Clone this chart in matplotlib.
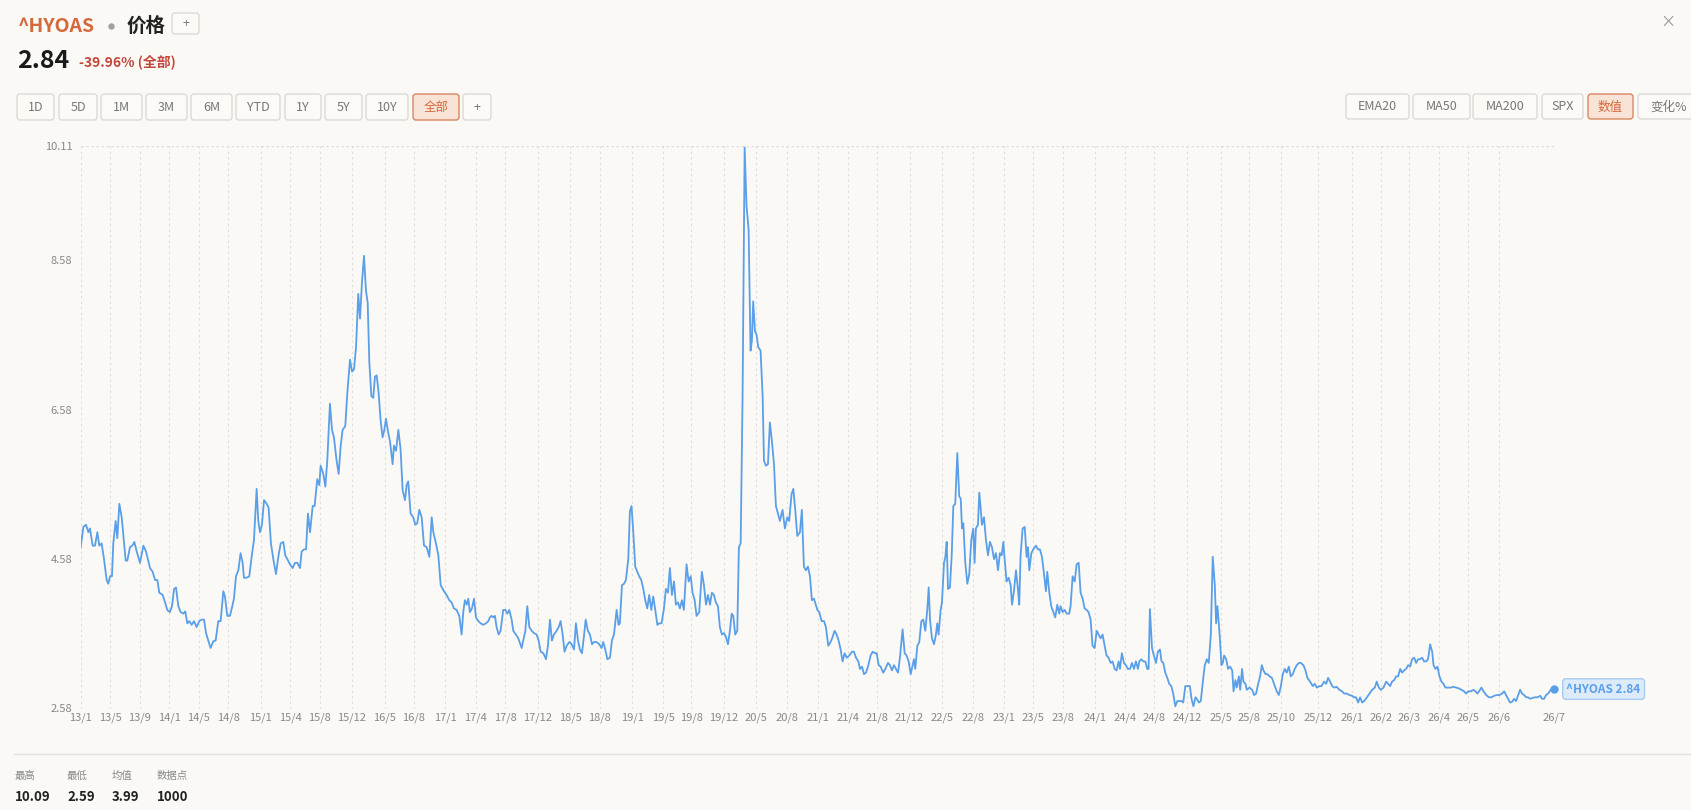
import matplotlib
matplotlib.use("Agg")
import matplotlib.pyplot as plt
from matplotlib.patches import FancyBboxPatch
import numpy as np

plt.rcParams['font.family'] = ['Noto Sans CJK SC', 'DejaVu Sans']

# ---- data (trading-day index, spread value) ----
day_idx = [
    0, 1.8, 3.6, 5.2, 6.3, 8.1, 9.7, 11.3, 12.6, 14.2, 15.8, 17.6, 18.7, 19.9, 21.2, 22.1, 23.7, 24.8,
    26.2, 27.8, 29.4, 30.5, 31.6, 33.4, 35, 36.4, 38, 40.2, 42.5, 44.3, 47, 48.8, 50.4, 52, 53.3, 55.6,
    57.2, 58.7, 60.5, 61.9, 63.3, 64.6, 66.2, 67.8, 69.6, 70.9, 72.3, 73.6, 75.2, 76.8, 78.6, 80.4, 82,
    83.6, 85, 86.5, 88.1, 89.9, 91.5, 93.3, 94.9, 96.7, 97.8, 99.4, 101.2, 102.8, 103.9, 105.3, 106.9,
    108.4, 109.8, 110.7, 112.5, 114.3, 115.9, 117.5, 119.3, 120.4, 121.6, 122.9, 124.3, 126.1, 127.4,
    129, 130.6, 132.4, 134, 135.6, 137.4, 138.7, 140.1, 141.9, 143.7, 145.3, 146.9, 148.7, 149.8, 151.4,
    152.8, 154.1, 155.5, 157.3, 158.6, 160.4, 161.8, 162.7, 164.5, 165.9, 167.2, 169, 170.4, 171.7,
    173.5, 174.9, 176.3, 177.6, 179.4, 180.8, 182.6, 184, 185.3, 186.7, 188.2, 189.4, 190.7, 192.1,
    193.4, 194.6, 195.7, 197.1, 198.4, 199.5, 200.7, 202, 203.4, 204.7, 205.9, 207, 208.6, 209.7,
    211.5, 212.4, 213.8, 215.4, 216.9, 218.3, 219.9, 221, 222.1, 223.7, 225.5, 226.9, 228.2, 229.6,
    231.2, 232.8, 234.6, 236.4, 238, 239.1, 240.9, 242.5, 244.1,
    246.3, 248.1, 249.9, 251.5, 253.1, 254.9, 256.7, 258.3, 259.4, 260.5, 261.7, 262.8, 263.9, 265.3,
    266.7, 268, 269.6, 271.2, 273, 274.8, 276.4, 277.5, 278.6, 279.8, 280.9, 282, 283.4, 284.7, 286.5,
    287.9, 289.3, 290.6, 292.2, 293.3, 295.1, 296.7, 299, 300.1, 301.5, 302.8, 304.2, 305.8, 307.3,
    309.1, 310.5, 311.9, 313.7, 315.5, 316.8, 318.2, 319.5, 320.9, 322.7, 324.1, 325.4, 326.8, 328.1,
    329.5, 331.3, 332.9, 334.5, 335.8, 337.2, 338.5, 339.9, 341.2, 342.4, 343.9, 345.3, 346.7, 348,
    349.8, 351.6, 353.2, 354.3, 355.7, 357.1, 358.9, 360.2, 361.6, 363.4, 364.7, 365.6, 367, 368.4,
    369.7, 371.3, 372.4, 373.5, 374.7, 376, 377.4, 378.7, 380.1, 381.5, 382.8, 384.2, 385.5, 386.9,
    388.2, 389.6, 391, 392.3, 393.9, 395.5, 396.8, 398.2, 399.5, 400.9, 402.3, 403.6, 405, 406.3,
    407.7, 409, 410.8, 412.2, 413.6, 414.9, 416.3, 417.6, 419.4, 421.2, 422.6, 424, 425.3, 426.7, 428,
    429.4, 430.7, 432.1, 433.4, 434.8, 436.2, 437.5, 438.9, 440.2, 441.4, 442.5, 443.8, 445.2, 446.3,
    447.5, 448.8, 450.2, 451.5, 452.9, 454.2, 455.1, 456, 457.2, 458.3, 459.4, 461, 462.4, 463.3,
    464.6, 466, 467.3, 468.7, 470.1, 471.4, 472.8, 474.1, 475.9, 477.5, 479.1, 480.4, 482, 483.2,
    484.5, 485.9, 487.7, 489, 490.4, 491.7, 493.1, 494.5, 495.8, 497.2,
    499.5, 500.8, 502.4, 504, 505.3, 506.9, 508.5, 509.9, 511.2, 512.6, 513.9, 515.3, 516.6, 518,
    519.4, 521.2, 523, 524.3, 525.7, 527.3, 528.4, 529.8, 531.1, 532.5, 534.1, 535.6, 537, 538.6,
    539.7, 541.1, 542.4, 544.2, 545.6, 547.4, 548.7, 550.1, 551.5, 552.8, 554.2, 555.5, 557.3, 558.7,
    560, 561.4, 562.8, 564.1, 565, 565.9, 567.3, 568.6, 570, 571.3, 572.7, 574.1, 575, 575.9, 577.2,
    578.6, 579.9, 580.8, 581.7, 583.1, 584, 585.4, 586.3, 587.2, 588.1, 589.4, 590.6, 591.7, 593,
    594.4, 595.7, 596.7, 597.6, 598.5, 599.8, 601.2, 602.5, 603.9, 605.2, 606.1, 607, 608.4, 609.3,
    610.2, 611.1, 612.5, 613.8, 615.2, 616.5, 617.9, 619.3, 620.6, 622, 623.3, 624.5, 625.6, 626.7,
    627.8, 629.2, 630.6, 631.5, 632.8, 634.2, 635.5, 636.4, 637.3, 638.7, 640.1, 641.4, 642.3, 643.2,
    644.6, 645.9, 647.7, 649.1, 650.4, 651.8, 653.2, 654.5, 655.4, 656.8, 658.1, 659.5, 660.8, 662.2,
    663.5, 664.4, 665.8, 667.2, 668.5, 670.3, 671.2, 672.6, 674, 675.3, 676.7, 678, 679.4, 680.7,
    682.1, 683.4, 684.8, 686.1, 687.5, 688.9, 690.2, 691.6, 692.9, 694.3, 695.6, 697, 698.4, 699.7,
    701.1, 702.4, 703.8, 704.7, 706, 707.4, 708.7, 710.1, 711.5, 712.8, 714.2, 715.5, 716.9, 717.8,
    719.2, 720.5, 721.9, 723.2, 724.1, 725, 726.4, 727.7, 729.1, 730.4, 731.8, 732.9, 734.1, 735.4,
    736.8, 738.1, 739.5, 740.8, 742.2, 743.6, 744.9, 746.3, 747.6, 749, 750.3, 752.1,
    753.2, 754.5, 755.9, 756.8, 758.2, 759.5, 760.9, 762.2, 763.6, 764.9, 766.3, 767.6, 769, 769.9,
    770.8, 771.7, 772.6, 773.5, 774.4, 775.3, 776.7, 778, 779.4, 780.8, 781.7, 783, 783.9, 785.3,
    786.2, 787.5, 788.4, 789.8, 790.7, 792.5, 794.3, 795.7, 797, 798.4, 799.7, 800.9, 802, 803.4,
    804.7, 806.1, 807.7, 809.2, 811, 812.4, 813.8, 815.1, 816.5, 817.8, 819.2, 820.5, 821.9, 823.2,
    824.6, 826, 827.3, 829.1, 830.5, 831.8, 833.6, 835.4, 836.8, 838.2, 840, 841.3, 843.1, 844.5,
    845.8, 847.2, 848.6, 849.9, 851.7, 853.5, 855.3, 856.7, 858.5, 860.3, 862.1, 863.5, 864.8, 866.2,
    867.5, 868.9, 870.3, 872.1, 873.9, 875.7, 877.5, 878.8, 880.2, 881.6, 883.4, 885.2, 886.5, 887.9,
    889.2, 890.6, 892, 893.3, 894.7, 896, 897.4, 898.7, 900.1, 901.4, 902.8, 904.2, 905.5, 906.9,
    908.2, 909.6, 910.9, 912.3, 913.6, 915, 916.4, 917.3, 918.6, 920, 921.3, 922.7, 924, 925.4, 927.2,
    929, 930.8, 932.6, 934.4, 936.2, 938, 939.4, 940.8, 942.6, 944.4, 945.7, 947.1, 948.5, 949.8,
    951.2, 953, 954.8, 956.6, 958.4, 960.2, 962, 963.8, 965.2, 966.5, 967.9, 969.2, 970.6, 972, 973.3,
    974.7, 976, 977.4, 978.7, 980.1, 981.4, 982.8, 984.2, 986, 987.8, 989.6, 990.9, 992.3, 993.6, 995,
    996.4, 997.7, 999,
]
spread = [
    4.74, 5.01, 5.04, 4.94, 4.99, 4.76, 4.76, 4.94, 4.76, 4.79, 4.58, 4.30, 4.25, 4.35, 4.35, 4.79, 5.09, 4.86,
    5.32, 5.14, 4.79, 4.56, 4.56, 4.74, 4.76, 4.81, 4.68, 4.53, 4.76, 4.68, 4.46, 4.41, 4.30, 4.30, 4.13, 4.10,
    4.00, 3.90, 3.87, 3.95, 4.18, 4.20, 3.95, 3.87, 3.85, 3.88, 3.72, 3.75, 3.70, 3.75, 3.67, 3.75, 3.77,
    3.77, 3.59, 3.49, 3.39, 3.48, 3.49, 3.75, 3.75, 4.15, 4.08, 3.82, 3.82, 3.95, 4.05, 4.35, 4.43,
    4.66, 4.53, 4.33, 4.33, 4.35, 4.61, 4.84, 5.52, 5.09, 4.94, 5.04, 5.37, 5.32, 5.27,
    4.79, 4.58, 4.38, 4.61, 4.79, 4.81, 4.63, 4.58, 4.51, 4.46, 4.53, 4.53, 4.46, 4.68, 4.71,
    4.71, 5.19, 4.94, 5.29, 5.29, 5.65, 5.57, 5.83, 5.72, 5.55, 5.90, 6.66, 6.31, 6.21,
    5.90, 5.72, 6.10, 6.31, 6.36, 6.81, 7.25, 7.09, 7.12, 7.42, 8.13, 7.80, 8.28, 8.64,
    8.18, 8.01, 7.22, 6.76, 6.74, 7.02, 7.04, 6.81, 6.43, 6.21, 6.31, 6.46, 6.26, 6.16,
    5.85, 6.10, 6.03, 6.31, 6.05, 5.50, 5.37, 5.57, 5.62, 5.19, 5.14, 5.04, 5.06, 5.24,
    5.14, 4.76, 4.74, 4.61, 5.14, 4.94, 4.79, 4.63, 4.23,
    4.15, 4.10, 4.03, 4.00, 3.92, 3.90, 3.82, 3.57, 3.87, 4.03, 3.97, 4.05, 3.87, 3.92,
    4.05, 3.80, 3.75, 3.72, 3.70, 3.72, 3.75, 3.80, 3.82, 3.80, 3.82, 3.67, 3.57, 3.62, 3.90,
    3.90, 3.85, 3.90, 3.77, 3.62, 3.57, 3.52, 3.39, 3.49, 3.62, 3.95, 3.67, 3.62, 3.59,
    3.57, 3.49, 3.34, 3.32, 3.24, 3.42, 3.77, 3.49, 3.57, 3.62, 3.67, 3.75, 3.57, 3.34,
    3.42, 3.47, 3.44, 3.37, 3.72, 3.49, 3.37, 3.32, 3.54, 3.77, 3.62, 3.57, 3.44, 3.47,
    3.47, 3.44, 3.39, 3.47, 3.37, 3.24, 3.26, 3.49, 3.57, 3.90, 3.70, 3.72, 4.23, 4.25,
    4.30, 4.58, 5.22, 5.29, 4.94, 4.48, 4.41, 4.35, 4.30, 4.18, 4.03, 3.92, 4.10, 3.90,
    4.08, 3.90, 3.70, 3.72, 3.72, 3.92, 4.18, 4.13, 4.46, 4.10, 4.28, 3.97, 4.00, 3.92,
    4.03, 3.90, 4.51, 4.28, 4.35, 4.13, 4.03, 3.82, 3.87, 4.41, 4.23, 3.97, 4.10, 3.97, 4.13,
    4.10, 4.00, 3.95, 3.67, 3.57, 3.59, 3.54, 3.44, 3.62, 3.85, 3.82, 3.57, 3.62, 4.74,
    4.79, 6.76, 10.09, 9.30, 8.99, 7.37, 7.50, 8.03, 7.63, 7.58, 7.42, 7.37, 6.76, 5.90,
    5.83, 5.85, 6.41, 6.16, 5.85, 5.29, 5.19, 5.09, 5.24, 4.99, 5.14, 5.09, 5.45, 5.52,
    5.24, 4.89, 4.94, 5.24, 4.48, 4.43, 4.48, 4.35, 4.03, 4.05,
    3.90, 3.87, 3.75, 3.75, 3.67, 3.42, 3.47, 3.54, 3.62, 3.57, 3.49, 3.37, 3.21, 3.32,
    3.26, 3.29, 3.34, 3.34, 3.26, 3.21, 3.11, 3.14, 3.04, 3.06, 3.16, 3.29, 3.34, 3.32,
    3.32, 3.16, 3.14, 3.06, 3.11, 3.19, 3.16, 3.09, 3.16, 3.11, 3.06, 3.26, 3.64, 3.32,
    3.29, 3.21, 3.04, 3.16, 3.24, 3.11, 3.42, 3.47, 3.75, 3.77, 3.62, 3.92, 4.20, 3.77, 3.52,
    3.44, 3.57, 3.72, 3.57, 3.90, 4.00, 4.53, 4.61, 4.81, 4.18, 4.20, 4.63, 5.29, 5.32,
    6.00, 5.42, 5.39, 4.99, 5.06, 4.53, 4.25, 4.38, 4.84, 4.99, 4.53, 4.99, 5.04, 5.47,
    5.27, 5.04, 5.14, 4.84, 4.63, 4.81, 4.74, 4.58, 4.66, 4.43, 4.66, 4.63, 4.81, 4.53,
    4.28, 4.33, 4.23, 3.97, 4.15, 4.43, 4.18, 3.97, 4.63, 4.99, 5.01, 4.61, 4.74, 4.43,
    4.66, 4.71, 4.76, 4.71, 4.71, 4.61, 4.38, 4.15, 4.41, 4.13, 3.95, 3.87, 3.80, 3.97,
    3.85, 3.95, 3.87, 3.90, 3.85, 3.85, 3.95, 4.35, 4.28, 4.51, 4.53, 4.13, 4.05, 3.92,
    3.90, 3.87, 3.77, 3.42, 3.39, 3.62, 3.57, 3.52, 3.57, 3.42, 3.29, 3.26, 3.19, 3.21,
    3.11, 3.09, 3.21, 3.11, 3.32, 3.19, 3.16, 3.11, 3.11, 3.19, 3.11, 3.21, 3.11, 3.21,
    3.24, 3.21, 3.21, 3.11, 3.11, 3.91, 3.39, 3.29, 3.19, 3.34, 3.37, 3.21, 3.19, 3.06,
    2.99, 2.91, 2.88, 2.78, 2.61, 2.68, 2.68, 2.68, 2.66, 2.88, 2.88, 2.88,
    2.71, 2.61, 2.73, 2.71, 2.66, 2.68, 2.94, 3.16, 3.24, 3.19, 3.57, 4.61, 4.23, 3.72,
    3.95, 3.72, 3.47, 3.16, 3.19, 3.29, 3.24, 3.11, 3.14, 3.09, 2.81, 2.96, 2.86, 3.01,
    2.83, 3.11, 2.94, 2.91, 2.83, 2.86, 2.83, 2.76, 2.78, 2.91, 3.01, 3.16, 3.09, 3.04,
    3.04, 3.01, 2.99, 2.91, 2.81, 2.76, 2.88, 3.04, 3.11, 3.06, 3.14, 3.01, 3.04, 3.11,
    3.16, 3.19, 3.19, 3.16, 3.09, 2.99, 2.94, 2.88, 2.91, 2.86, 2.88, 2.88, 2.94, 2.91,
    2.99, 2.94, 2.88, 2.86, 2.87, 2.83, 2.81, 2.78, 2.78, 2.76, 2.75, 2.73, 2.73, 2.66,
    2.73, 2.66, 2.68, 2.73, 2.78, 2.83, 2.86, 2.94, 2.86, 2.83, 2.86, 2.94, 2.91, 2.88,
    2.94, 2.96, 3.01, 3.01, 3.11, 3.06, 3.09, 3.11, 3.16, 3.14, 3.24, 3.26, 3.19, 3.24,
    3.24, 3.26, 3.21, 3.21, 3.24, 3.44, 3.34, 3.16, 3.11, 3.14, 3.01, 2.94, 2.91, 2.86, 2.86,
    2.86, 2.87, 2.86, 2.85, 2.83, 2.81, 2.78, 2.81, 2.81, 2.83, 2.81, 2.78, 2.82, 2.86,
    2.81, 2.76, 2.73, 2.73, 2.75, 2.76, 2.76, 2.78, 2.81, 2.76, 2.71, 2.66, 2.67, 2.71, 2.68,
    2.76, 2.83, 2.78, 2.76, 2.73, 2.73, 2.71, 2.72, 2.73, 2.73, 2.75, 2.71, 2.71, 2.76, 2.78,
    2.82, 2.85, 2.84,
]

tick_pos = [0, 20, 40, 60, 80, 100, 122, 142, 162, 184, 206, 226, 247, 268, 288, 310, 332, 352,
            374, 395, 414, 436, 458, 479, 500, 520, 540, 562, 584, 605, 626, 646, 666, 688, 708,
            728, 750, 773, 792, 814, 839, 862, 882, 901, 921, 941, 962, 999]
tick_lbl = ['13/1', '13/5', '13/9', '14/1', '14/5', '14/8', '15/1', '15/4', '15/8', '15/12',
            '16/5', '16/8', '17/1', '17/4', '17/8', '17/12', '18/5', '18/8', '19/1', '19/5',
            '19/8', '19/12', '20/5', '20/8', '21/1', '21/4', '21/8', '21/12', '22/5', '22/8',
            '23/1', '23/5', '23/8', '24/1', '24/4', '24/8', '24/12', '25/5', '25/8', '25/10',
            '25/12', '26/1', '26/2', '26/3', '26/4', '26/5', '26/6', '26/7']
y_ticks = [2.58, 4.58, 6.58, 8.58, 10.11]

range_btns = ['1D', '5D', '1M', '3M', '6M', 'YTD', '1Y', '5Y', '10Y', '全部', '+']
range_x = [(17, 54), (59, 97), (101, 142), (146, 187), (191, 232), (236, 280), (285, 321),
           (325, 362), (366, 408), (413, 459), (463, 491)]
tool_btns = ['EMA20', 'MA50', 'MA200', 'SPX', '数值', '变化%']
tool_x = [(1346, 1409), (1413, 1470), (1473, 1537), (1542, 1583), (1588, 1633), (1638, 1700)]

stat_names = ['最高', '最低', '均值', '数据点']
stat_vals = ['10.09', '2.59', '3.99', '1000']
stat_x = [15, 67, 112, 157]

# ---- figure ----
W, H = 1691, 810
BG = '#faf9f5'
BLUE = '#5a9fe8'
ORANGE = '#d4693a'
fig = plt.figure(figsize=(W / 100, H / 100), dpi=100, facecolor=BG)

ui = fig.add_axes([0, 0, 1, 1])
ui.set_xlim(0, W)
ui.set_ylim(H, 0)
ui.axis('off')
ui.set_zorder(0)


def button(x0, x1, y0, y1, label, selected=False):
    fc = '#f8e3d6' if selected else '#fbfaf7'
    ec = '#d9875f' if selected else '#dcdad5'
    tc = ORANGE if selected else '#777777'
    ui.add_patch(FancyBboxPatch((x0, y0), x1 - x0, y1 - y0,
                                boxstyle='round,pad=0,rounding_size=3',
                                fc=fc, ec=ec, lw=1.0))
    ui.text((x0 + x1) / 2, (y0 + y1) / 2 + 0.5, label, ha='center', va='center',
            fontsize=9, color=tc)


# header
ui.text(18, 26, '^HYOAS', fontsize=14, fontweight='bold', color=ORANGE, va='center')
ui.plot(111, 26, 'o', ms=3.6, color='#a0a0a0')
ui.text(127, 26, '价格', fontsize=14, fontweight='bold', color='#222222', va='center')
button(172, 199, 13, 34, '+')
ui.text(17, 61, '2.84', fontsize=18, fontweight='bold', color='#1a1a1a', va='center')
ui.text(79, 62, '-39.96% (全部)', fontsize=10, fontweight='bold', color='#c2473a', va='center')
ui.text(1668, 22, '×', fontsize=11, color='#999999', ha='center', va='center')

for lbl, (a, b) in zip(range_btns, range_x):
    button(a, b, 94, 120, lbl, selected=(lbl == '全部'))
for lbl, (a, b) in zip(tool_btns, tool_x):
    button(a, b, 94, 119, lbl, selected=(lbl == '数值'))

# footer stats
ui.plot([14, 1691], [754, 754], color='#e3e1dc', lw=1.0)
for name, val, x in zip(stat_names, stat_vals, stat_x):
    ui.text(x, 776, name, fontsize=7.5, color='#888888', va='center')
    ui.text(x, 797, val, fontsize=9.5, fontweight='bold', color='#222222', va='center')

# ---- chart ----
ax = fig.add_axes([80.7 / W, 1 - 708.5 / H, (1554 - 80.7) / W, (708.5 - 146) / H])
ax.set_zorder(1)
ax.set_facecolor('none')
ax.plot(day_idx, spread, color=BLUE, lw=1.3, solid_joinstyle='round')
ax.plot(day_idx[-1], spread[-1], 'o', color=BLUE, ms=5, clip_on=False)
ax.annotate('^HYOAS %.2f' % spread[-1], xy=(day_idx[-1], spread[-1]), xytext=(9, 0),
            textcoords='offset points', ha='left', va='center', fontsize=8.5,
            fontweight='bold', color=BLUE, annotation_clip=False,
            bbox=dict(boxstyle='round,pad=0.32,rounding_size=0.25', fc='#dceafa',
                      ec='#a8cbf2', lw=1.0))

ax.set_xlim(0, 999)
ax.set_ylim(y_ticks[0], y_ticks[-1])
ax.set_xticks(tick_pos)
ax.set_xticklabels(tick_lbl)
ax.set_yticks(y_ticks)
ax.set_yticklabels(['%.2f' % v for v in y_ticks])
ax.tick_params(axis='both', length=0, labelsize=8, labelcolor='#888888')
ax.tick_params(axis='x', pad=3)
ax.tick_params(axis='y', pad=6)
for s in ax.spines.values():
    s.set_visible(False)
for p in tick_pos:
    ax.axvline(p, color='#dcdcdc', lw=0.8, ls=(0, (2, 3)), zorder=0)
for v in (y_ticks[0], y_ticks[-1]):
    ax.axhline(v, color='#dcdcdc', lw=0.9, ls=(0, (2, 2)), zorder=0)

fig.savefig('out.png', dpi=100, facecolor=BG)
